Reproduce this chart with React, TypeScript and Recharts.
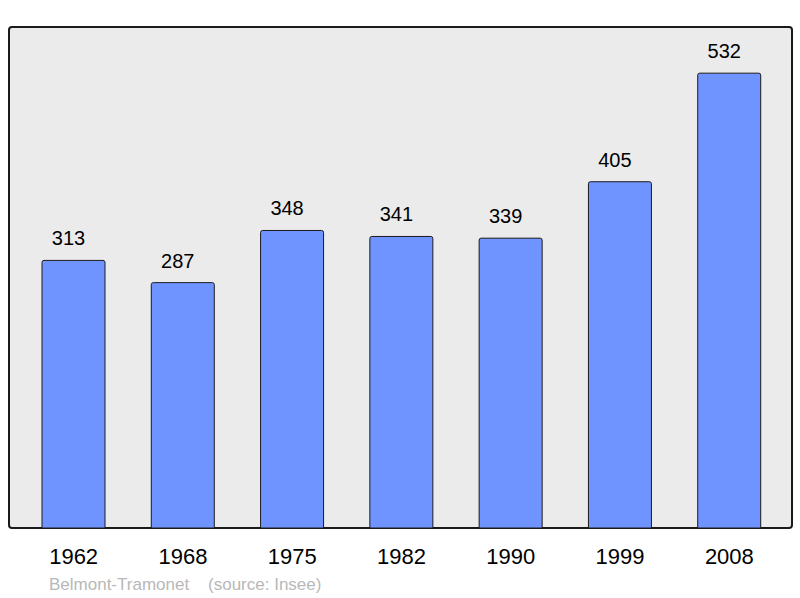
import { BarChart, Bar, XAxis, YAxis, LabelList } from 'recharts'

const YEARS = ['1962', '1968', '1975', '1982', '1990', '1999', '2008']
const POPULATION = [313, 287, 348, 341, 339, 405, 532]
const CAPTION = 'Belmont-Tramonet'
const SOURCE = '(source: Insee)'

const data = YEARS.map((year, i) => ({ year, pop: POPULATION[i] }))

const FONT = '"Liberation Sans", Arial, sans-serif'

export default function App() {
    return (
        <div style={{ position: 'absolute', left: 0, top: 0, width: 800, height: 598, background: '#fff', fontFamily: FONT }}>
            {/* panel behind the chart */}
            <div
                style={{
                    position: 'absolute',
                    left: 8,
                    top: 26,
                    width: 781,
                    height: 499,
                    background: '#ebebeb',
                    border: '2px solid #1a1a1a',
                    borderRadius: 4,
                }}
            />
            <div style={{ position: 'absolute', left: 0, top: 0 }}>
                <BarChart
                    width={800}
                    height={598}
                    data={data}
                    margin={{ top: 27, right: 8, left: 9, bottom: 0 }}
                >
                    <XAxis
                        dataKey="year"
                        height={70}
                        axisLine={false}
                        tickLine={false}
                        tickSize={0}
                        tickMargin={20}
                        padding={{ left: 10, right: 8 }}
                        interval={0}
                        tick={{ fill: '#000', fontSize: 22, fontFamily: FONT }}
                    />
                    <YAxis hide domain={[0, 586]} />
                    <Bar
                        dataKey="pop"
                        fill="#7094ff"
                        stroke="#1a1a1a"
                        strokeWidth={1}
                        barSize={63}
                        radius={[2, 2, 0, 0]}
                        isAnimationActive={false}
                    >
                        <LabelList
                            dataKey="pop"
                            position="top"
                            offset={15}
                            dx={-5}
                            style={{ fill: '#000', fontSize: 20, fontFamily: FONT }}
                        />
                    </Bar>
                </BarChart>
            </div>
            <div
                style={{
                    position: 'absolute',
                    left: 49,
                    top: 575,
                    fontSize: 17,
                    color: '#b8b8b8',
                    whiteSpace: 'pre',
                    lineHeight: '20px',
                }}
            >
                {CAPTION + '    ' + SOURCE}
            </div>
        </div>
    )
}
